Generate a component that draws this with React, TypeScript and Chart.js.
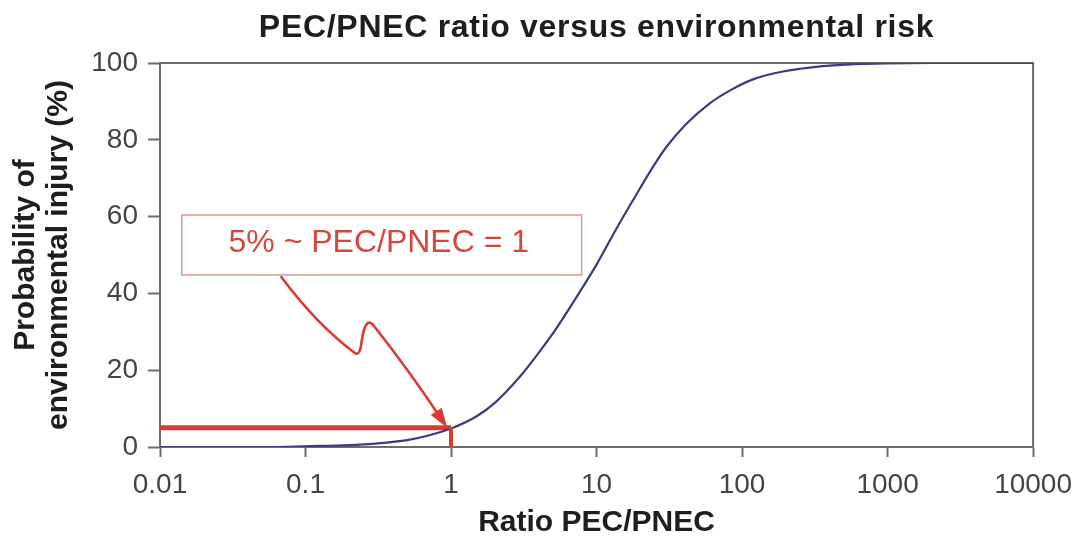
import React, { useEffect, useRef } from "react";
import { Chart, registerables } from "chart.js";

Chart.register(...registerables);

// ---- Data ----
const curveX = [0.01, 0.06, 0.1, 0.2, 0.3, 0.5, 0.7, 1, 1.5, 2, 3, 4, 5, 8, 10, 14, 20, 24, 30, 41, 60, 84, 120, 180, 250, 360, 600, 1000, 2000, 10000];
const curveY = [0, 0, 0.2, 0.5, 0.9, 1.8, 3.0, 4.8, 8.0, 11.5, 18.5, 24.5, 29.5, 41.5, 47.5, 57.5, 67.5, 72.5, 78, 84, 89.5, 93, 95.8, 97.6, 98.5, 99.2, 99.7, 99.9, 100, 100];

const xTicks = [0.01, 0.1, 1, 10, 100, 1000, 10000];
const xTickLabels = ["0.01", "0.1", "1", "10", "100", "1000", "10000"];
const yMin = 0;
const yMax = 100;
const yStep = 20;

// threshold marks: 5 % at PEC/PNEC = 1
const thresholdLineX = [0.01, 1];
const thresholdLineY = [5, 5];
const thresholdDropX = [1, 1];
const thresholdDropY = [0, 5];

// annotation (in data coordinates)
const boxX = [0.01413, 7.9];
const boxY = [44.79, 60.42];
const boxLabel = "5% ~ PEC/PNEC = 1";
const boxLabelAt = [0.3188, 53.1];
// arrow path: start, then quadratic (control, end) pairs
const arrowStart = [0.0682, 44.27];
const arrowQuads = [
  [0.1202, 31.77, 0.2185, 24.48],
  [0.2364, 23.44, 0.244, 27.86],
  [0.2598, 34.64, 0.2993, 31.25],
  [0.5111, 20.05, 0.944, 4.95],
];

const titleText = "PEC/PNEC ratio versus environmental risk";
const xTitle = "Ratio PEC/PNEC";
const yTitle = ["Probability of", "environmental injury (%)"];

const FONT = "'Liberation Sans', Arial, Helvetica, sans-serif";
const AXIS = "#6c6c6c";
const RED = "#dc3b35";

const decorPlugin = {
  id: "decor",
  beforeDatasetsDraw(chart: any) {
    const { ctx, chartArea } = chart;
    ctx.save();
    ctx.strokeStyle = AXIS;
    ctx.lineWidth = 2;
    ctx.beginPath();
    ctx.moveTo(chartArea.left, chartArea.top);
    ctx.lineTo(chartArea.right, chartArea.top);
    ctx.lineTo(chartArea.right, chartArea.bottom);
    ctx.stroke();
    ctx.restore();
  },
  afterDatasetsDraw(chart: any) {
    const { ctx } = chart;
    const xs = chart.scales.x;
    const ys = chart.scales.y;
    const px = (v: number) => xs.getPixelForValue(v);
    const py = (v: number) => ys.getPixelForValue(v);
    ctx.save();
    // box
    const l = px(boxX[0]), r = px(boxX[1]), t = py(boxY[1]), b = py(boxY[0]);
    ctx.fillStyle = "#ffffff";
    ctx.fillRect(l, t, r - l, b - t);
    ctx.strokeStyle = "#e39a96";
    ctx.lineWidth = 1.6;
    ctx.strokeRect(l, t, r - l, b - t);
    ctx.fillStyle = "#d4473f";
    ctx.font = `32px ${FONT}`;
    ctx.textAlign = "center";
    ctx.textBaseline = "middle";
    ctx.fillText(boxLabel, px(boxLabelAt[0]), py(boxLabelAt[1]));

    // arrow
    const last = arrowQuads[arrowQuads.length - 1];
    const tipX = px(last[2]), tipY = py(last[3]);
    const cX = px(last[0]), cY = py(last[1]);
    let dx = tipX - cX, dy = tipY - cY;
    const len = Math.hypot(dx, dy);
    dx /= len; dy /= len;
    const headLen = 20, headW = 6.5;
    const baseX = tipX - dx * headLen, baseY = tipY - dy * headLen;

    ctx.strokeStyle = RED;
    ctx.lineWidth = 2.6;
    ctx.lineCap = "round";
    ctx.lineJoin = "round";
    ctx.beginPath();
    ctx.moveTo(px(arrowStart[0]), py(arrowStart[1]));
    arrowQuads.forEach((q, i) => {
      if (i === arrowQuads.length - 1) {
        ctx.quadraticCurveTo(px(q[0]), py(q[1]), baseX + dx * 4, baseY + dy * 4);
      } else {
        ctx.quadraticCurveTo(px(q[0]), py(q[1]), px(q[2]), py(q[3]));
      }
    });
    ctx.stroke();
    ctx.fillStyle = RED;
    ctx.beginPath();
    ctx.moveTo(tipX, tipY);
    ctx.lineTo(baseX - dy * headW, baseY + dx * headW);
    ctx.lineTo(baseX + dy * headW, baseY - dx * headW);
    ctx.closePath();
    ctx.fill();
    ctx.restore();
  },
  afterDraw(chart: any) {
    const { ctx, chartArea } = chart;
    const cx = (chartArea.left + chartArea.right) / 2;
    const cy = (chartArea.top + chartArea.bottom) / 2;
    ctx.save();
    ctx.fillStyle = "#1e1e1e";
    ctx.textAlign = "center";
    ctx.textBaseline = "middle";
    ctx.font = `bold 32px ${FONT}`;
    (ctx as any).letterSpacing = "0.7px";
    ctx.fillText(titleText, cx, chartArea.top - 35);
    (ctx as any).letterSpacing = "0px";
    ctx.font = `bold 30px ${FONT}`;
    ctx.fillText(xTitle, cx, chartArea.bottom + 76);
    ctx.translate(0, cy);
    ctx.rotate(-Math.PI / 2);
    ctx.textBaseline = "alphabetic";
    ctx.fillText(yTitle[0], 0, 34);
    ctx.fillText(yTitle[1], 0, 67);
    ctx.restore();
  },
};

export default function App() {
  const ref = useRef<HTMLCanvasElement | null>(null);
  useEffect(() => {
    if (!ref.current) return;
    const chart = new Chart(ref.current, {
      type: "scatter",
      data: {
        datasets: [
          {
            data: thresholdLineX.map((x, i) => ({ x, y: thresholdLineY[i] })),
            showLine: true,
            borderColor: RED,
            borderWidth: 5,
            pointRadius: 0,
            order: 2,
          },
          {
            data: curveX.map((x, i) => ({ x, y: curveY[i] })),
            showLine: true,
            borderColor: "#3b3b7e",
            borderWidth: 2.2,
            pointRadius: 0,
            cubicInterpolationMode: "monotone",
            order: 1,
          },
          {
            data: thresholdDropX.map((x, i) => ({ x, y: thresholdDropY[i] })),
            showLine: true,
            borderColor: RED,
            borderWidth: 4,
            pointRadius: 0,
            order: 0,
          },
        ],
      },
      options: {
        animation: false,
        responsive: false,
        maintainAspectRatio: false,
        layout: { padding: { top: 63, right: 45, bottom: 0, left: 0 } },
        font: { family: FONT },
        plugins: { legend: { display: false }, tooltip: { enabled: false }, title: { display: false } },
        scales: {
          x: {
            type: "logarithmic",
            min: xTicks[0],
            max: xTicks[xTicks.length - 1],
            afterBuildTicks: (s: any) => {
              s.ticks = xTicks.map((v) => ({ value: v }));
            },
            afterFit: (s: any) => {
              s.height = 90;
            },
            ticks: {
              callback: (_v: any, i: number) => xTickLabels[i],
              font: { size: 28, family: FONT },
              color: "#444444",
              padding: 11,
              maxRotation: 0,
              autoSkip: false,
            },
            grid: { drawOnChartArea: false, tickLength: 10, tickColor: AXIS, tickWidth: 2 },
            border: { color: AXIS, width: 2 },
          },
          y: {
            min: yMin,
            max: yMax,
            afterFit: (s: any) => {
              s.width = 160;
            },
            ticks: {
              stepSize: yStep,
              font: { size: 28, family: FONT },
              color: "#444444",
              padding: 10,
            },
            grid: { drawOnChartArea: false, tickLength: 12, tickColor: AXIS, tickWidth: 2 },
            border: { color: AXIS, width: 2 },
          },
        },
      } as any,
      plugins: [decorPlugin],
    });
    return () => chart.destroy();
  }, []);
  return (
    <div style={{ position: "absolute", left: 0, top: 0, width: 1083, height: 537, background: "#fff" }}>
      <canvas ref={ref} width={1083} height={537} style={{ display: "block" }} />
    </div>
  );
}
